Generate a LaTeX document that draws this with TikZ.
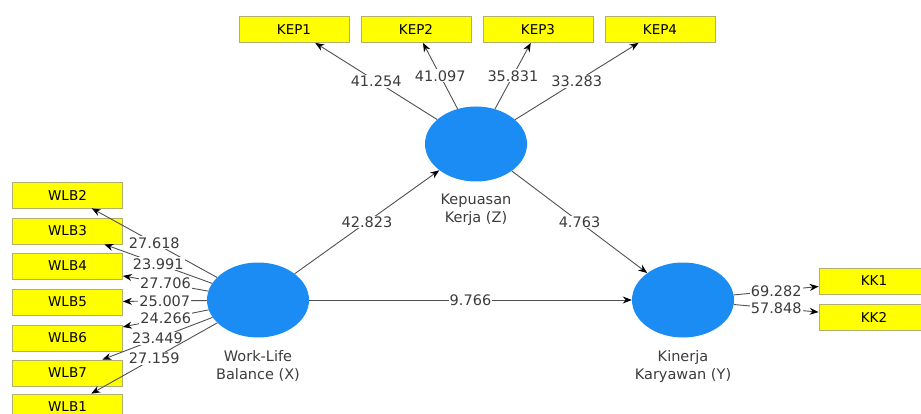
\documentclass[tikz,border=0pt]{standalone}
\usepackage{fontspec}
\setmainfont{DejaVu Sans}
\usetikzlibrary{shapes.geometric,arrows.meta}
\definecolor{lvblue}{RGB}{28,140,245}
\definecolor{mvyellow}{RGB}{255,255,0}
\definecolor{mvedge}{RGB}{175,175,110}
\definecolor{linkgray}{RGB}{80,80,80}
\definecolor{numgray}{RGB}{60,60,60}
\tikzset{
  latent/.style={ellipse,fill=lvblue,minimum width=102pt,minimum height=75pt,inner sep=0pt},
  indicator/.style={rectangle,fill=mvyellow,draw=mvedge,line width=0.7pt,minimum width=110pt,minimum height=26pt,inner sep=0pt,font=\fontsize{13.5}{16}\selectfont},
  link/.style={draw=linkgray,line width=0.9pt,-{Stealth[length=9pt,width=7pt,color=black]}},
  tval/.style={fill=white,inner sep=1pt,text=numgray,font=\fontsize{14.5}{17}\selectfont},
  lvname/.style={align=center,text=numgray,font=\fontsize{14.5}{18}\selectfont}
}
\begin{document}
\begin{tikzpicture}[x=1pt,y=-1pt]
    \useasboundingbox (0,0) rectangle (921,414);
    \clip (0,0) rectangle (921,414);
    % Latent variables
    \node[latent] (X) at (258,300) {};
    \node[latent] (Z) at (476,144) {};
    \node[latent] (Y) at (683,300) {};
    \node[lvname] (Xname) at (258,366) {Work-Life\\Balance (X)};
    \node[lvname] (Zname) at (476,210) {Kepuasan\\Kerja (Z)};
    \node[lvname] (Yname) at (683,366) {Kinerja\\Karyawan (Y)};
    % Indicators
    \foreach \i/\x in {1/294,2/416,3/538,4/660}
      \node[indicator] (kep\i) at (\x,29.5) {KEP\i};
    \foreach \i/\y in {2/195,3/231,4/266,5/302,6/338,7/373,1/407}
      \node[indicator] (wlb\i) at (67.5,\y) {WLB\i};
    \node[indicator] (kk1) at (874,281) {KK1};
    \node[indicator] (kk2) at (874,317) {KK2};
    % Outer loadings
    \foreach \i/\v in {1/41.254,2/41.097,3/35.831,4/33.283}
      \draw[link] (Z) -- node[tval] {\v} (kep\i);
    \foreach \i/\v in {2/27.618,3/23.991,4/27.706,5/25.007,6/24.266,7/23.449,1/27.159}
      \draw[link] (X) -- node[tval] {\v} (wlb\i);
    \draw[link] (Y) -- node[tval] {69.282} (kk1);
    \draw[link] (Y) -- node[tval] {57.848} (kk2);
    % Inner paths
    \draw[link] (X) -- node[tval] {42.823} (Z);
    \draw[link] (Z) -- node[tval] {4.763} (Y);
    \draw[link] (X) -- node[tval] {9.766} (Y);
\end{tikzpicture}
\end{document}
